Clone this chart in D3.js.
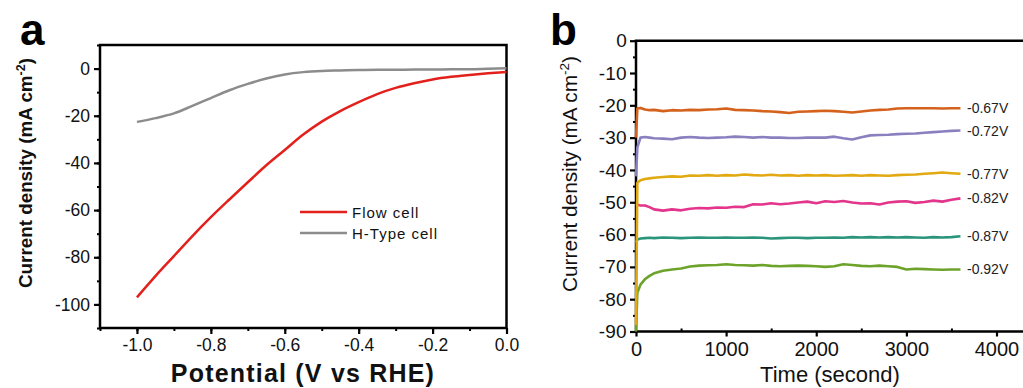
<!DOCTYPE html>
<html>
<head>
<meta charset="utf-8">
<script src="https://cdn.jsdelivr.net/npm/d3@7"></script>
<style>
  body { margin: 0; background: #fff; }
  svg { display: block; font-family: "Liberation Sans", Arial, sans-serif; }
</style>
</head>
<body>
<svg id="chart" width="1023" height="388"></svg>
<script>
// ==========================
// DATA
// ==========================
// panel a: LSV curves
const potential = [-1.0, -0.95, -0.9, -0.85, -0.8, -0.75, -0.7, -0.65, -0.6, -0.55, -0.5,
                   -0.45, -0.4, -0.35, -0.3, -0.25, -0.2, -0.15, -0.1, -0.05, 0.0];
const flowCell  = [-97, -88, -79.5, -71, -63, -55.5, -48.2, -41, -34.5, -28, -22.5,
                   -18, -14.2, -10.8, -8.2, -6.2, -4.6, -3.5, -2.7, -2.0, -1.4];
const hTypeCell = [-22.6, -21, -19, -15.8, -12.5, -9.2, -6.5, -4.2, -2.5, -1.5, -1.0,
                   -0.8, -0.6, -0.5, -0.5, -0.4, -0.4, -0.3, -0.3, -0.1, 0.1];
const xTicksA = [-1.0, -0.8, -0.6, -0.4, -0.2, 0.0];
const yTicksA = [0, -20, -40, -60, -80, -100];

// panel b: chronoamperometry
const timeS = [0, 15, 50, 100, 150, 200, 300, 400, 500, 600, 700, 800, 900, 1000, 1100, 1200,
               1300, 1400, 1500, 1600, 1700, 1800, 1900, 2000, 2100, 2200, 2300, 2400, 2500,
               2600, 2700, 2800, 2900, 3000, 3100, 3200, 3300, 3400, 3500, 3600];
const j067 = [-30, -21, -20.8, -21.3, -21.5, -21.4, -21.8, -21.5, -21.6, -21.4, -21.5, -21.3, -21.2,
              -21.0, -21.4, -21.5, -21.6, -21.8, -21.9, -22.1, -22.4, -22.0, -21.9, -21.8, -21.7,
              -21.8, -22.0, -22.2, -21.9, -21.6, -21.4, -21.3, -21.0, -20.9, -20.9, -20.9, -20.9,
              -21.0, -20.9, -20.9];
const j072 = [-42, -33, -30, -29.8, -30.0, -30.2, -30.3, -30.5, -30.0, -29.8, -30.0, -30.1, -30.0,
              -29.9, -29.7, -29.8, -30.0, -29.8, -30.0, -30.0, -30.1, -30.1, -30.0, -30.0, -30.0,
              -29.7, -30.2, -30.6, -29.9, -29.3, -29.2, -29.1, -28.9, -28.8, -28.7, -28.5, -28.3,
              -28.1, -27.9, -27.8];
const j077 = [-88, -44, -43.2, -42.8, -42.6, -42.4, -42.2, -42.0, -42.1, -41.7, -41.8, -41.6, -41.8,
              -41.6, -41.7, -41.4, -41.6, -41.7, -41.5, -41.7, -41.6, -41.8, -41.6, -41.7, -41.6,
              -41.8, -41.7, -41.6, -41.8, -41.6, -41.7, -41.8, -41.6, -41.5, -41.4, -41.2, -41.0,
              -40.8, -41.0, -41.2];
const j082 = [-50.5, -50.8, -51.0, -51.0, -51.5, -52.2, -52.6, -52.2, -52.5, -52.0, -51.8, -51.9, -51.6,
              -51.7, -51.4, -51.5, -50.6, -50.7, -50.3, -50.6, -50.4, -50.1, -49.8, -50.3, -49.7,
              -49.9, -49.6, -50.1, -50.4, -50.3, -50.7, -50.1, -49.8, -49.7, -50.2, -49.9, -49.5,
              -49.8, -49.2, -48.8];
const j087 = [-62.5, -61.5, -61.2, -61.1, -61.0, -61.1, -60.9, -61.0, -61.1, -61.0, -60.9, -61.0, -61.0,
              -60.9, -61.0, -61.0, -60.9, -61.0, -61.2, -61.1, -61.0, -61.0, -61.1, -61.0, -61.0,
              -60.9, -61.0, -60.8, -60.9, -60.8, -60.9, -60.8, -60.9, -60.8, -60.9, -61.0, -60.8,
              -60.9, -60.8, -60.5];
const j092 = [-90, -78, -75.5, -73.8, -72.8, -72.0, -71.2, -70.8, -70.5, -69.9, -69.6, -69.5, -69.4,
              -69.2, -69.4, -69.5, -69.6, -69.4, -69.7, -69.8, -69.7, -69.6, -69.7, -69.8, -70.0,
              -69.8, -69.2, -69.4, -69.7, -69.8, -69.6, -69.8, -70.0, -70.8, -70.6, -70.7, -70.8,
              -70.9, -70.8, -70.8];
const seriesNames = ["-0.92V", "-0.87V", "-0.82V", "-0.72V", "-0.67V", "-0.77V"];
const seriesVals  = [j092, j087, j082, j072, j067, j077];
const seriesColors = ["#6da32b", "#2a957a", "#e2358b", "#8a80c0", "#d4621c", "#e1a912"];
const xTicksB = [0, 1000, 2000, 3000, 4000];
const yTicksB = [0, -10, -20, -30, -40, -50, -60, -70, -80, -90];

const svg = d3.select("#chart");
const FONT = "Liberation Sans, Arial, sans-serif";

// ==========================
// PANEL A
// ==========================
const ax = d3.scaleLinear().domain([-1.1, 0]).range([100, 506.5]);
const ay = d3.scaleLinear().domain([-110, 10]).range([328, 45]);

const gA = svg.append("g");

// minor ticks
gA.append("g")
  .attr("transform", `translate(${ax.range()[0]},0)`)
  .call(d3.axisLeft(ay).tickValues(d3.range(-110, 11, 10)).tickSize(3).tickFormat(""))
  .call(g => g.select(".domain").remove())
  .selectAll("line").attr("stroke-width", 2);
gA.append("g")
  .attr("transform", `translate(0,${ay.range()[0]})`)
  .call(d3.axisBottom(ax).tickValues(d3.range(-11, 1).map(d => d / 10)).tickSize(3).tickFormat(""))
  .call(g => g.select(".domain").remove())
  .selectAll("line").attr("stroke-width", 2);

// major ticks + labels (plain hyphen as minus, like the original)
gA.append("g")
  .attr("transform", `translate(${ax.range()[0]},0)`)
  .call(d3.axisLeft(ay).tickValues(yTicksA).tickSize(6).tickPadding(4).tickFormat(d => String(d)))
  .call(g => g.select(".domain").remove())
  .call(g => g.selectAll("line").attr("stroke-width", 2.2))
  .call(g => g.selectAll("text").attr("font-size", 17.5).attr("fill", "#111").attr("font-family", FONT));
gA.append("g")
  .attr("transform", `translate(0,${ay.range()[0]})`)
  .call(d3.axisBottom(ax).tickValues(xTicksA).tickSize(6).tickPadding(5).tickFormat(d => d.toFixed(1)))
  .call(g => g.select(".domain").remove())
  .call(g => g.selectAll("line").attr("stroke-width", 2.2))
  .call(g => g.selectAll("text").attr("font-size", 17.5).attr("fill", "#111").attr("font-family", FONT));

gA.append("rect")
  .attr("x", ax.range()[0]).attr("y", ay.range()[1])
  .attr("width", ax.range()[1] - ax.range()[0])
  .attr("height", ay.range()[0] - ay.range()[1])
  .attr("fill", "none").attr("stroke", "#000").attr("stroke-width", 2.5);

const lineA = d3.line()
  .x((d, i) => ax(potential[i]))
  .y(d => ay(d))
  .curve(d3.curveMonotoneX);

gA.append("path").datum(hTypeCell)
  .attr("d", lineA).attr("fill", "none").attr("stroke", "#8c8c8c").attr("stroke-width", 2.5);
gA.append("path").datum(flowCell)
  .attr("d", lineA).attr("fill", "none").attr("stroke", "#e3211c").attr("stroke-width", 2.5);

// legend
const legendA = [
  { name: "Flow cell", color: "#e3211c", y: 212 },
  { name: "H-Type cell", color: "#8c8c8c", y: 233 }
];
legendA.forEach(l => {
  gA.append("line")
    .attr("x1", 300).attr("x2", 347).attr("y1", l.y).attr("y2", l.y)
    .attr("stroke", l.color).attr("stroke-width", 2.5);
  gA.append("text")
    .attr("x", 352).attr("y", l.y + 5.5)
    .attr("font-size", 15).attr("letter-spacing", 1).attr("fill", "#111")
    .text(l.name);
});

// axis titles
gA.append("text")
  .attr("x", 303).attr("y", 382)
  .attr("text-anchor", "middle")
  .attr("font-size", 25).attr("font-weight", "bold").attr("letter-spacing", 1.2)
  .attr("fill", "#111")
  .text("Potential (V vs RHE)");

const yTitleA = gA.append("text")
  .attr("transform", "translate(32,173) rotate(-90)")
  .attr("text-anchor", "middle")
  .attr("font-size", 18).attr("font-weight", "bold").attr("fill", "#111")
  .attr("textLength", 230).attr("lengthAdjust", "spacingAndGlyphs");
yTitleA.append("tspan").text("Current density (mA cm");
yTitleA.append("tspan").attr("dy", -7).attr("font-size", 12).text("-2");
yTitleA.append("tspan").attr("dy", 7).text(")");

gA.append("text")
  .attr("x", 20).attr("y", 45)
  .attr("font-size", 44).attr("font-weight", "bold").attr("fill", "#000")
  .text("a");

// ==========================
// PANEL B
// ==========================
const bx = d3.scaleLinear().domain([0, 4000]).range([636, 996.5]);
const by = d3.scaleLinear().domain([-90, 0]).range([331.5, 40.7]);

const gB = svg.append("g");

gB.append("g")
  .attr("transform", `translate(${bx(0)},0)`)
  .call(d3.axisLeft(by).tickValues(d3.range(-85, 0, 10)).tickSize(3).tickFormat(""))
  .call(g => g.select(".domain").remove())
  .selectAll("line").attr("stroke-width", 2);
gB.append("g")
  .attr("transform", `translate(0,${by(-90)})`)
  .call(d3.axisTop(bx).tickValues([500, 1500, 2500, 3500]).tickSize(3).tickFormat(""))
  .call(g => g.select(".domain").remove())
  .selectAll("line").attr("stroke-width", 2);

gB.append("g")
  .attr("transform", `translate(${bx(0)},0)`)
  .call(d3.axisLeft(by).tickValues(yTicksB).tickSize(6).tickPadding(3).tickFormat(d => String(d)))
  .call(g => g.select(".domain").remove())
  .call(g => g.selectAll("line").attr("stroke-width", 2.2))
  .call(g => g.selectAll("text").attr("font-size", 19).attr("letter-spacing", 0.3).attr("fill", "#111")
    .attr("font-family", FONT));
gB.append("g")
  .attr("transform", `translate(0,${by(-90)})`)
  .call(d3.axisBottom(bx).tickValues(xTicksB).tickSize(5).tickPadding(5).tickFormat(d => String(d)))
  .call(g => g.select(".domain").remove())
  .call(g => g.selectAll("line").attr("stroke-width", 2.2))
  .call(g => g.selectAll("text").attr("font-size", 20).attr("fill", "#111").attr("font-family", FONT));

// frame: left, bottom and top (right edge falls outside the picture)
gB.append("path")
  .attr("d", `M1030,${by(0)}H${bx(0)}V${by(-90)}H1030`)
  .attr("fill", "none").attr("stroke", "#000").attr("stroke-width", 2.5);

const lineB = d3.line()
  .x((d, i) => bx(timeS[i]))
  .y(d => by(d));

seriesVals.forEach((vals, k) => {
  gB.append("path").datum(vals)
    .attr("d", lineB).attr("fill", "none")
    .attr("stroke", seriesColors[k]).attr("stroke-width", 2.6)
    .attr("stroke-linejoin", "round");
  gB.append("text")
    .attr("x", 967).attr("y", by(vals[vals.length - 1]) + 5)
    .attr("font-size", 14).attr("fill", "#222")
    .text(seriesNames[k]);
});

gB.append("text")
  .attr("x", 830).attr("y", 382)
  .attr("text-anchor", "middle")
  .attr("font-size", 22).attr("fill", "#111")
  .text("Time (second)");

const yTitleB = gB.append("text")
  .attr("transform", "translate(577,174) rotate(-90)")
  .attr("text-anchor", "middle")
  .attr("font-size", 20).attr("fill", "#111")
  .attr("textLength", 236).attr("lengthAdjust", "spacingAndGlyphs");
yTitleB.append("tspan").text("Current density (mA cm");
yTitleB.append("tspan").attr("dy", -8).attr("font-size", 13).text("-2");
yTitleB.append("tspan").attr("dy", 8).text(")");

gB.append("text")
  .attr("x", 550).attr("y", 45)
  .attr("font-size", 44).attr("font-weight", "bold").attr("fill", "#000")
  .text("b");
</script>
</body>
</html>
